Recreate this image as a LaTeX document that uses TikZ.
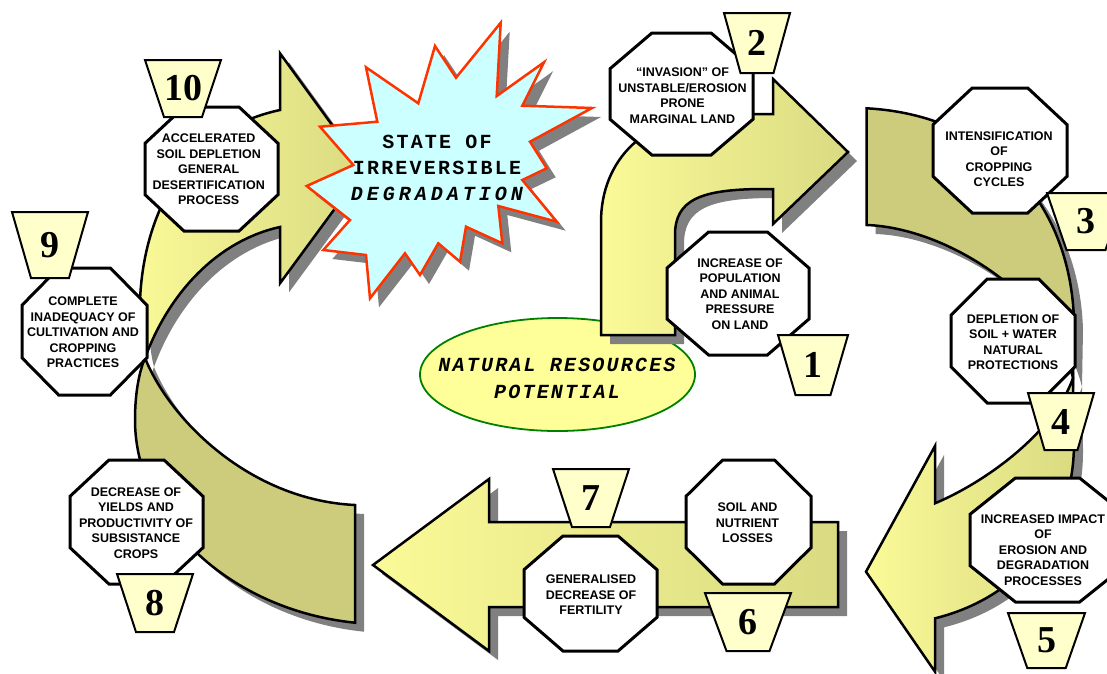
\documentclass[tikz,border=0pt]{standalone}
\usepackage{fontspec}
\setsansfont{Liberation Sans}
\newfontfamily\numfont{Liberation Serif}
\newfontfamily\labelmono[LetterSpace=11]{Liberation Mono}
\newfontfamily\widemono[LetterSpace=20]{Liberation Mono}
\usetikzlibrary{shapes.geometric}

\definecolor{paleY}{RGB}{250,250,152}
\definecolor{oliveY}{RGB}{218,218,130}
\definecolor{backY}{RGB}{204,204,124}
\definecolor{shadowgrey}{RGB}{128,128,128}
\definecolor{trapY}{RGB}{255,255,204}
\definecolor{starcyan}{RGB}{204,255,255}
\definecolor{starred}{RGB}{255,51,0}
\definecolor{ellY}{RGB}{255,255,153}
\definecolor{ellgreen}{RGB}{0,128,0}

% outlines of the block arrows (pixel-like units, y downwards)
\newcommand\pathLback{(355,505) -- (355,622.7) .. controls (230,610) and (135,520) .. (135,420)
  .. controls (135,390) and (140,370) .. (145,358) .. controls (170,420) and (250,500) .. (355,505) -- cycle}
\newcommand\pathLhead{(145,358) .. controls (130,300) and (140,140) .. (280,110) -- (280,53.3) -- (364,169)
  -- (280,283.3) -- (280,227) .. controls (220,240) and (170,290) .. (145,358) -- cycle}
\newcommand\pathUp{(601,335) -- (601,222) .. controls (601,160) and (645,114) .. (720,114) -- (773,114)
  -- (773,79) -- (848,152) -- (773,224) -- (773,189) -- (765,189) .. controls (700,189) and (675,200) .. (675,235)
  -- (675,335) -- cycle}
\newcommand\pathRback{(866.7,108.3) .. controls (990,115) and (1070,200) .. (1074,320) -- (1073,378)
  .. controls (1055,300) and (950,228) .. (866.7,225) -- cycle}
\newcommand\pathRhead{(1073,378) -- (1074,440) .. controls (1075,540) and (1010,600) .. (935,618.3)
  -- (935,671.7) -- (866,571.7) -- (935,446) -- (935,503.3) .. controls (990,480) and (1055,430) .. (1073,378) -- cycle}
\newcommand\pathBottom{(373,565) -- (489,479) -- (489,522) -- (838,522) -- (838,607) -- (489,607) -- (489,651) -- cycle}
\newcommand\pathStar{(500.7,22.7) -- (496.7,96) -- (544,62.3) -- (522.3,105.7) -- (592,108) -- (530,141.7)
  -- (546.7,168.3) -- (522.3,180) -- (556.7,221.7) -- (498.3,206) -- (502.3,243.3) -- (466,226.7)
  -- (460,261.7) -- (438.3,243.3) -- (420,275) -- (405,253.3) -- (370,298.3) -- (366,255)
  -- (323.3,250) -- (350,220) -- (306.7,186) -- (353.3,165) -- (320,126.7) -- (377.3,121.7)
  -- (366,67.3) -- (418.3,103.3) -- (435,46) -- (456,77.7) -- cycle}

% octagon given by its bounding box x1,y1,x2,y2
\newcommand\octagon[4]{%
  \pgfmathsetmacro\octcx{0.293*(#3-#1)}%
  \pgfmathsetmacro\octcy{0.293*(#4-#2)}%
  \filldraw[octline] (#1+\octcx,#2) -- (#3-\octcx,#2) -- (#3,#2+\octcy) -- (#3,#4-\octcy)
    -- (#3-\octcx,#4) -- (#1+\octcx,#4) -- (#1,#4-\octcy) -- (#1,#2+\octcy) -- cycle;}

% numbered trapezium: name, centre x, top y, bottom y, half top width, number
\newcommand\numtrap[6]{%
  \filldraw[trapline] (#2-#5,#3) -- (#2+#5,#3) -- (#2+#5/2,#4) -- (#2-#5/2,#4) -- cycle;
  \node[numtext] (#1) at (#2,{(#3+#4)/2}) {#6};}

\begin{document}
\begin{tikzpicture}[x=1pt,y=-1pt,
  arrowline/.style={draw=black, line width=2.5pt, line join=miter},
  shadowfill/.style={fill=shadowgrey, shift={(9,9)}},
  octline/.style={draw=black, fill=white, line width=3pt, line join=miter},
  octtext/.style={font=\sffamily\bfseries\fontsize{12.5}{15.5}\selectfont, align=center, inner sep=0pt},
  trapline/.style={draw=black, fill=trapY, line width=2pt, line join=miter},
  numtext/.style={font=\numfont\bfseries\fontsize{38}{38}\selectfont, inner sep=0pt},
  starline/.style={draw=starred, fill=starcyan, line width=2.5pt, line join=miter},
  monotext/.style={font=\labelmono\bfseries\fontsize{20}{26}\selectfont, align=center, inner sep=0pt}]

\useasboundingbox (0,0) rectangle (1107,673);
\clip (0,0) rectangle (1107,673);

% central ellipse
\node[ellipse, draw=ellgreen, fill=ellY, line width=1.8pt, minimum width=275pt, minimum height=113pt, inner sep=0pt]
  (potential) at (557.5,374.5) {};
\node[monotext, font=\labelmono\bfseries\itshape\fontsize{20}{27}\selectfont] (potentialtext) at (557,378)
  {NATURAL RESOURCES\\POTENTIAL};

% left curved arrow (8 -> 10)
\fill[shadowfill] \pathLback;
\fill[shadowfill] \pathLhead;
\path[arrowline, fill=backY] \pathLback;
\path[arrowline, left color=paleY, right color=oliveY] \pathLhead;

% starburst
\fill[shadowfill] \pathStar;
\path[starline] \pathStar;
\node[monotext] (state) at (437,168) {STATE OF\\IRREVERSIBLE\\{\widemono\itshape DEGRADATION}};

% bent arrow (1 -> 2)
\fill[shadowfill] \pathUp;
\path[arrowline, left color=paleY, right color=oliveY] \pathUp;

% right curved arrow (3 -> 5)
\fill[shadowfill] \pathRback;
\fill[shadowfill] \pathRhead;
\path[arrowline, fill=backY] \pathRback;
\path[arrowline, left color=paleY, right color=oliveY] \pathRhead;

% straight arrow (6 -> 7)
\fill[shadowfill] \pathBottom;
\path[arrowline, left color=paleY, right color=oliveY] \pathBottom;

% octagons with their texts
\octagon{667}{232}{809}{355}
\node[octtext] (s1) at (740,294) {INCREASE OF\\POPULATION\\AND ANIMAL\\PRESSURE\\ON LAND};
\octagon{610}{33}{753}{155}
\node[octtext] (s2) at (682.5,95.5) {“INVASION” OF\\UNSTABLE/EROSION\\PRONE\\MARGINAL LAND};
\octagon{933}{88}{1067}{213}
\node[octtext] (s3) at (999,159.4) {INTENSIFICATION\\OF\\CROPPING\\CYCLES};
\octagon{951}{279}{1075}{403}
\node[octtext] (s4) at (1013,342) {DEPLETION OF\\SOIL + WATER\\NATURAL\\PROTECTIONS};
\octagon{970}{478}{1125}{602}
\node[octtext] (s5) at (1043,550) {INCREASED IMPACT\\OF\\EROSION AND\\DEGRADATION\\PROCESSES};
\octagon{686}{460}{811}{584}
\node[octtext] (s6) at (747.5,523) {SOIL AND\\NUTRIENT\\LOSSES};
\octagon{524}{536}{657}{651}
\node[octtext] (s7) at (591,595) {GENERALISED\\DECREASE OF\\FERTILITY};
\octagon{70}{460}{203}{584}
\node[octtext] (s8) at (136,523) {DECREASE OF\\YIELDS AND\\PRODUCTIVITY OF\\SUBSISTANCE\\CROPS};
\octagon{22}{268}{147}{395}
\node[octtext] (s9) at (83,332.6) {COMPLETE\\INADEQUACY OF\\CULTIVATION AND\\CROPPING\\PRACTICES};
\octagon{145}{107}{278}{231}
\node[octtext] (s10) at (208.7,169.5) {ACCELERATED\\SOIL DEPLETION\\GENERAL\\DESERTIFICATION\\PROCESS};

% step numbers
\numtrap{n1}{813}{335}{395}{35}{1}
\numtrap{n2}{757}{13}{73}{33}{2}
\numtrap{n3}{1086}{193}{250}{39}{3}
\numtrap{n4}{1061}{393}{450}{33}{4}
\numtrap{n5}{1046.5}{613}{668}{38.5}{5}
\numtrap{n6}{748}{593}{651}{43}{6}
\numtrap{n7}{591}{469}{527}{38}{7}
\numtrap{n8}{155}{574}{632}{38}{8}
\numtrap{n9}{50}{212}{278}{38}{9}
\numtrap{n10}{183}{60}{117}{38}{10}
\end{tikzpicture}
\end{document}
